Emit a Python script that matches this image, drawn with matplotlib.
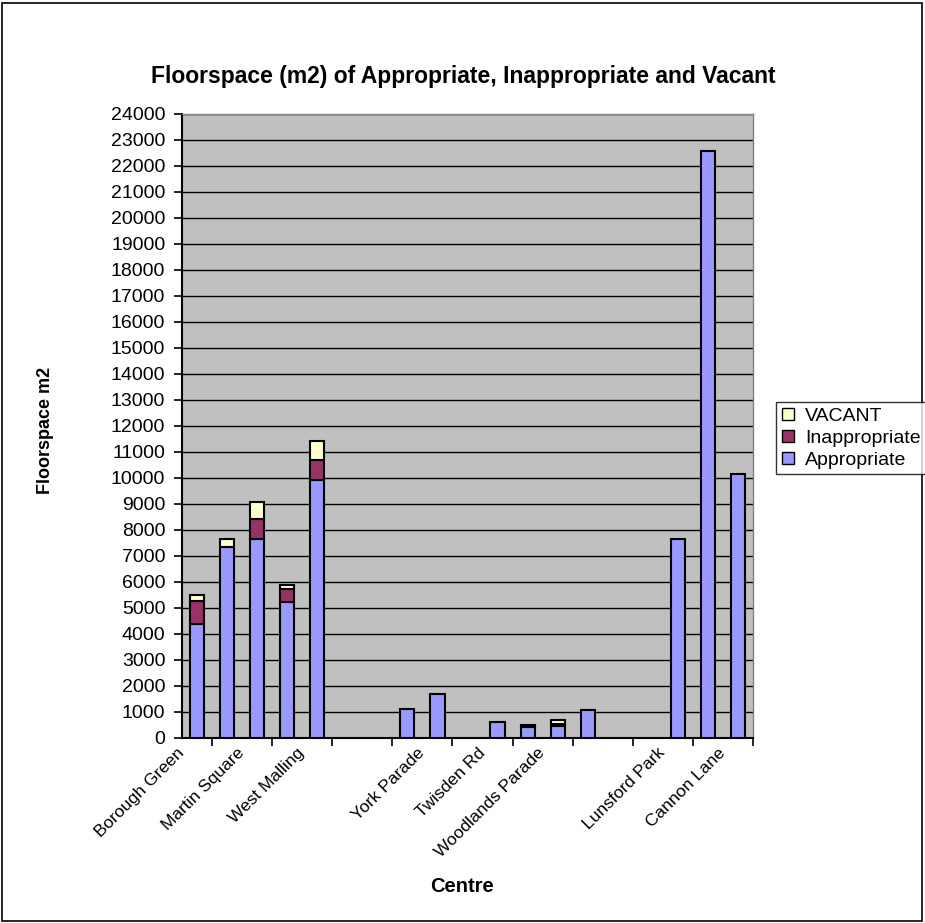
import matplotlib
matplotlib.use("Agg")
import matplotlib.pyplot as plt
from matplotlib.patches import Patch, Rectangle
import numpy as np

plt.rcParams['font.family'] = ['Liberation Sans', 'DejaVu Sans']

categories = ["Borough Green", "", "Martin Square", "", "West Malling", "", "", "",
              "York Parade", "", "Twisden Rd", "", "Woodlands Parade", "", "",
              "", "Lunsford Park", "", "Cannon Lane"]
appropriate = [4380, 7340, 7660, 5240, 9940, 0, 0, 1110, 1680, 0, 620, 420, 450, 1060,
               0, 0, 7650, 22560, 10170]
inappropriate = [900, 0, 780, 490, 740, 0, 0, 0, 0, 0, 0, 80, 80, 0,
                 0, 0, 0, 0, 0]
vacant = [220, 320, 640, 140, 750, 0, 0, 0, 0, 0, 0, 0, 150, 0,
          0, 0, 0, 0, 0]
y_ticks = list(range(0, 24001, 1000))

W, H = 925, 923
fig = plt.figure(figsize=(W / 100, H / 100), dpi=100)
fig.patches.append(Rectangle((2 / W, 2 / H), (W - 5) / W, (H - 5) / H,
                             transform=fig.transFigure, fill=False,
                             edgecolor='black', linewidth=1.2))

ax = fig.add_axes([182 / W, (H - 738) / H, (753 - 182) / W, (738 - 114) / H])
ax.set_facecolor('#C0C0C0')

x = np.arange(len(categories))
a = np.array(appropriate)
i = np.array(inappropriate)
v = np.array(vacant)
bw = 0.47
kw = dict(width=bw, edgecolor='black', linewidth=1.5, zorder=3)
for vals, bottom, col, lab in [(a, np.zeros_like(a), '#9999FF', 'Appropriate'),
                               (i, a, '#993366', 'Inappropriate'),
                               (v, a + i, '#FFFFCC', 'VACANT')]:
    m = vals > 0
    ax.bar(x[m], vals[m], bottom=bottom[m], color=col, label=lab, **kw)

ax.set_xlim(-0.5, len(categories) - 0.5)
ax.set_ylim(0, 24000)
ax.set_yticks(y_ticks)
ax.set_yticklabels([str(t) for t in y_ticks], fontsize=14)
ax.yaxis.grid(True, color='black', linewidth=1.0, zorder=0)
ax.set_axisbelow(True)

# labels shown on every second category, as in the source chart
lab_idx = [k for k in range(0, len(categories), 2)]
ax.set_xticks(x[lab_idx] - 0.5)
ax.set_xticklabels([categories[k] for k in lab_idx], rotation=45, ha='right',
                   va='center', rotation_mode='anchor', fontsize=12.5)
ax.tick_params(axis='x', which='major', length=0, pad=9)
ax.set_xticks(np.arange(-0.5, len(categories), 1.0), minor=True)
ax.tick_params(axis='x', which='minor', length=6, width=1.2, color='black')
ax.tick_params(axis='y', length=6, width=1.2, color='black', pad=6)

for s in ['left', 'bottom']:
    ax.spines[s].set_color('black')
    ax.spines[s].set_linewidth(1.5)
for s in ['top', 'right']:
    ax.spines[s].set_color('#808080')
    ax.spines[s].set_linewidth(1.0)

fig.text(463 / W, 1 - 77 / H, "Floorspace (m2) of Appropriate, Inappropriate and Vacant",
         ha='center', va='center', fontsize=16.5, fontweight='bold')
fig.text(45 / W, 1 - 430 / H, "Floorspace m2", rotation=90, ha='center', va='center',
         fontsize=13, fontweight='bold')
fig.text(462 / W, 1 - 887 / H, "Centre", ha='center', va='center',
         fontsize=14.5, fontweight='bold')

handles = [Patch(facecolor='#FFFFCC', edgecolor='black', label='VACANT'),
           Patch(facecolor='#993366', edgecolor='black', label='Inappropriate'),
           Patch(facecolor='#9999FF', edgecolor='black', label='Appropriate')]
leg = fig.legend(handles=handles, loc='upper left',
                 bbox_to_anchor=(776 / W, 1 - 402 / H), fontsize=14,
                 frameon=True, fancybox=False, edgecolor='black',
                 handlelength=0.6, handleheight=0.6, handletextpad=0.6,
                 borderpad=0.3, labelspacing=0.25, borderaxespad=0)
leg.get_frame().set_linewidth(1.0)

fig.savefig('out.png', dpi=100)
